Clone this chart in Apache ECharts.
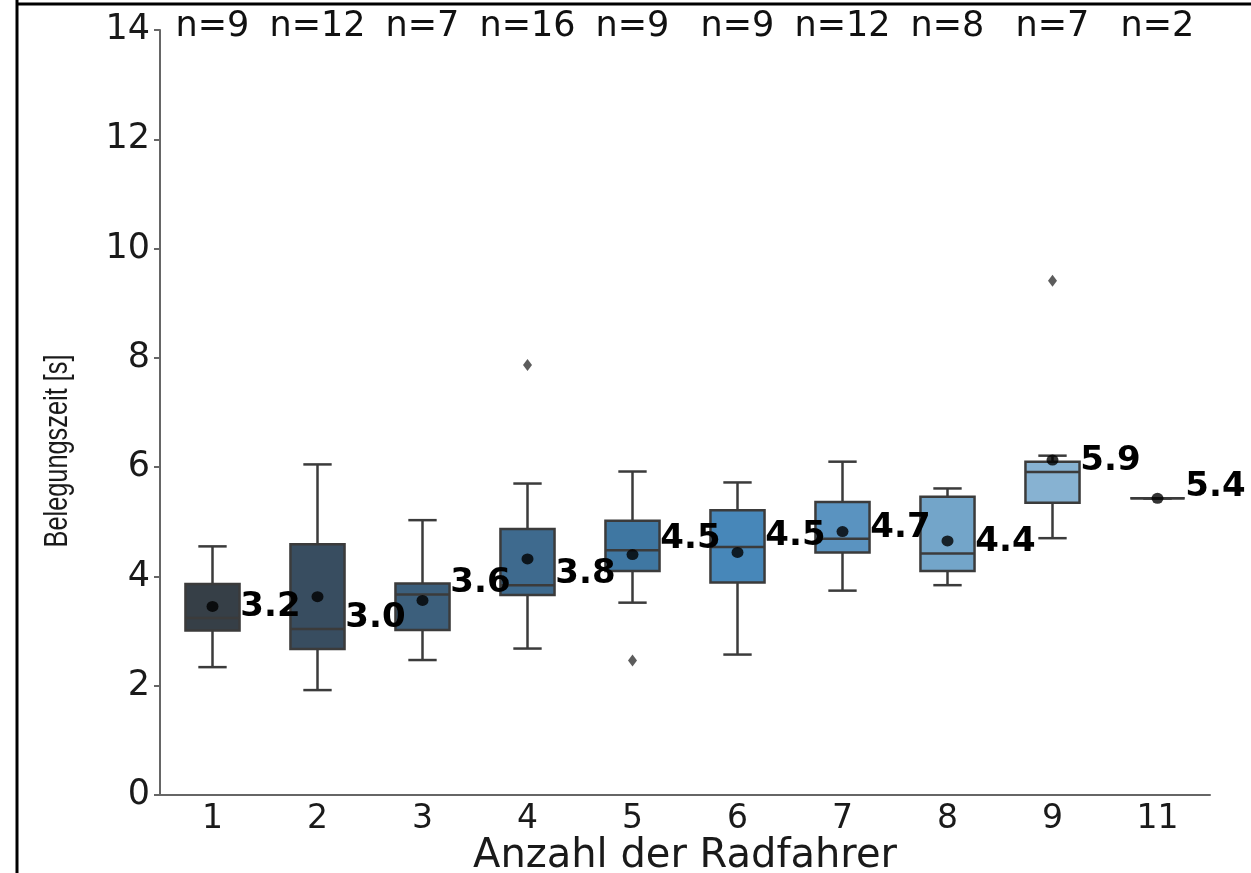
<!DOCTYPE html>
<html>
<head>
<meta charset="utf-8">
<script src="https://cdn.jsdelivr.net/npm/echarts@6/dist/echarts.min.js"></script>
<style>
html,body{margin:0;padding:0;background:#fff;}
#chart{width:1251px;height:873px;}
</style>
</head>
<body>
<div id="chart"></div>
<script>
// ---- data ----
const categories = ['1','2','3','4','5','6','7','8','9','11'];
const counts     = [9, 12, 7, 16, 9, 9, 12, 8, 7, 2];
const whiskerLow = [2.34, 1.92, 2.47, 2.68, 3.52, 2.57, 3.74, 3.84, 4.70, 5.43];
const q1         = [3.01, 2.67, 3.02, 3.66, 4.10, 3.89, 4.44, 4.10, 5.35, 5.43];
const medians    = [3.24, 3.04, 3.67, 3.84, 4.48, 4.54, 4.69, 4.42, 5.91, 5.43];
const q3         = [3.86, 4.59, 3.87, 4.87, 5.02, 5.21, 5.36, 5.46, 6.10, 5.43];
const whiskerHigh= [4.55, 6.05, 5.03, 5.70, 5.92, 5.72, 6.10, 5.61, 6.21, 5.43];
const means      = [3.45, 3.63, 3.56, 4.32, 4.40, 4.44, 4.82, 4.65, 6.13, 5.43];
const medianLabels = ['3.2','3.0','3.6','3.8','4.5','4.5','4.7','4.4','5.9','5.4'];
const outlierCat = ['4', '5', '9'];
const outlierVal = [7.87, 2.46, 9.41];
const yTicks = [0, 2, 4, 6, 8, 10, 12, 14];
const boxColors = ['#363f47','#384d60','#3c5f7c','#3e6a8e','#3f77a2','#4787b9','#5a93c0','#73a5c9','#87b2d2','#a3c6df'];
const yTitle = 'Belegungszeit [s]';
const xTitle = 'Anzahl der Radfahrer';

const boxData = categories.map((c, i) => [i, whiskerLow[i], q1[i], medians[i], q3[i], whiskerHigh[i]]);
const meanData = categories.map((c, i) => [i, means[i]]);
const labelData = categories.map((c, i) => [i, medians[i], medianLabels[i]]);
const nData = categories.map((c, i) => [i, yTicks[yTicks.length - 1], 'n=' + counts[i]]);
const outData = outlierCat.map((c, i) => [categories.indexOf(c), outlierVal[i]]);

const dom = document.getElementById('chart');
const chart = echarts.init(dom, null, {renderer: 'canvas'});
const edge = '#3b3b3b';
const H = 873, W = 1251;

// condensed y title: measure and scale along its length
const yFont = '34px "Liberation Sans", Arial, sans-serif';
const mctx = document.createElement('canvas').getContext('2d');
mctx.font = yFont;
const yLen = mctx.measureText(yTitle).width || 260;
const yScale = 193 / yLen;

const option = {
  backgroundColor: '#fff',
  animation: false,
  grid: {left: 160, right: 41, top: 30, bottom: 78, containLabel: false, outerBoundsMode: 'none'},
  graphic: [
    {type: 'line', shape: {x1: 17, y1: 0, x2: 17, y2: H}, style: {stroke: '#000', lineWidth: 3}, z: 100},
    {type: 'line', shape: {x1: 16, y1: 4, x2: W, y2: 4}, style: {stroke: '#000', lineWidth: 3}, z: 100},
    {type: 'text', x: 58, y: 451, rotation: Math.PI / 2, scaleX: yScale, scaleY: 1, z: 100,
      style: {text: yTitle, font: yFont, fill: '#1a1a1a', textAlign: 'center', textVerticalAlign: 'middle', verticalAlign: 'middle'}}
  ],
  xAxis: {
    type: 'category',
    data: categories,
    boundaryGap: true,
    name: xTitle,
    nameLocation: 'middle',
    nameGap: 42,
    nameMoveOverlap: false,
    nameTextStyle: {fontFamily: 'DejaVu Sans', fontSize: 40, color: '#1a1a1a'},
    axisLine: {lineStyle: {color: '#666', width: 2}},
    axisTick: {alignWithLabel: true, length: 6, lineStyle: {color: '#666', width: 2}},
    axisLabel: {fontFamily: 'DejaVu Sans', fontSize: 33, color: '#1a1a1a', margin: 8},
    splitLine: {show: false}
  },
  yAxis: {
    type: 'value',
    min: 0, max: 14, interval: 2,
    axisLine: {show: true, lineStyle: {color: '#666', width: 2}},
    axisTick: {show: true, length: 6, lineStyle: {color: '#666', width: 2}},
    axisLabel: {fontFamily: 'DejaVu Sans', fontSize: 35, color: '#1a1a1a', margin: 10},
    splitLine: {show: false}
  },
  series: [
    {
      type: 'custom',
      name: 'box',
      data: boxData,
      encode: {x: 0, y: [1, 2, 3, 4, 5]},
      z: 2,
      renderItem: function (params, api) {
        const i = api.value(0);
        const band = api.size([1, 0])[0];
        const w = band * 0.515;
        const cap = band * 0.27;
        const pLow = api.coord([i, api.value(1)]);
        const pQ1 = api.coord([i, api.value(2)]);
        const pMed = api.coord([i, api.value(3)]);
        const pQ3 = api.coord([i, api.value(4)]);
        const pHigh = api.coord([i, api.value(5)]);
        const x = pMed[0];
        const ls = {stroke: edge, lineWidth: 2.5};
        return {
          type: 'group',
          children: [
            {type: 'line', shape: {x1: x, y1: pHigh[1], x2: x, y2: pQ3[1]}, style: ls},
            {type: 'line', shape: {x1: x, y1: pQ1[1], x2: x, y2: pLow[1]}, style: ls},
            {type: 'line', shape: {x1: x - cap / 2, y1: pHigh[1], x2: x + cap / 2, y2: pHigh[1]}, style: ls},
            {type: 'line', shape: {x1: x - cap / 2, y1: pLow[1], x2: x + cap / 2, y2: pLow[1]}, style: ls},
            {type: 'rect', shape: {x: x - w / 2, y: pQ3[1], width: w, height: pQ1[1] - pQ3[1]},
              style: {fill: boxColors[params.dataIndex], stroke: edge, lineWidth: 2.5}},
            {type: 'line', shape: {x1: x - w / 2, y1: pMed[1], x2: x + w / 2, y2: pMed[1]}, style: ls}
          ]
        };
      }
    },
    {
      type: 'scatter',
      name: 'outliers',
      data: outData,
      symbol: 'diamond',
      symbolSize: [9, 12],
      itemStyle: {color: '#333'},
      z: 3
    },
    {
      type: 'scatter',
      name: 'mean',
      data: meanData,
      symbol: 'circle',
      symbolSize: [12, 11],
      itemStyle: {color: '#000'},
      z: 4
    },
    {
      type: 'custom',
      name: 'medianLabels',
      data: labelData,
      encode: {x: 0, y: 1},
      z: 5,
      renderItem: function (params, api) {
        const i = api.value(0);
        const band = api.size([1, 0])[0];
        const p = api.coord([i, api.value(1)]);
        return {
          type: 'text',
          x: p[0] + band * 0.265,
          y: p[1] - 11,
          style: {text: labelData[params.dataIndex][2], fontFamily: 'DejaVu Sans', fontWeight: 'bold',
            fontSize: 34, fill: '#000', textAlign: 'left', textVerticalAlign: 'middle', verticalAlign: 'middle'}
        };
      }
    },
    {
      type: 'custom',
      name: 'counts',
      data: nData,
      encode: {x: 0, y: 1},
      z: 5,
      renderItem: function (params, api) {
        const i = api.value(0);
        const p = api.coord([i, api.value(1)]);
        return {
          type: 'text',
          x: p[0],
          y: p[1] - 3,
          style: {text: nData[params.dataIndex][2], fontFamily: 'DejaVu Sans', fontSize: 35,
            fill: '#111', textAlign: 'center', textVerticalAlign: 'middle', verticalAlign: 'middle'}
        };
      }
    }
  ]
};
chart.setOption(option);
</script>
</body>
</html>
